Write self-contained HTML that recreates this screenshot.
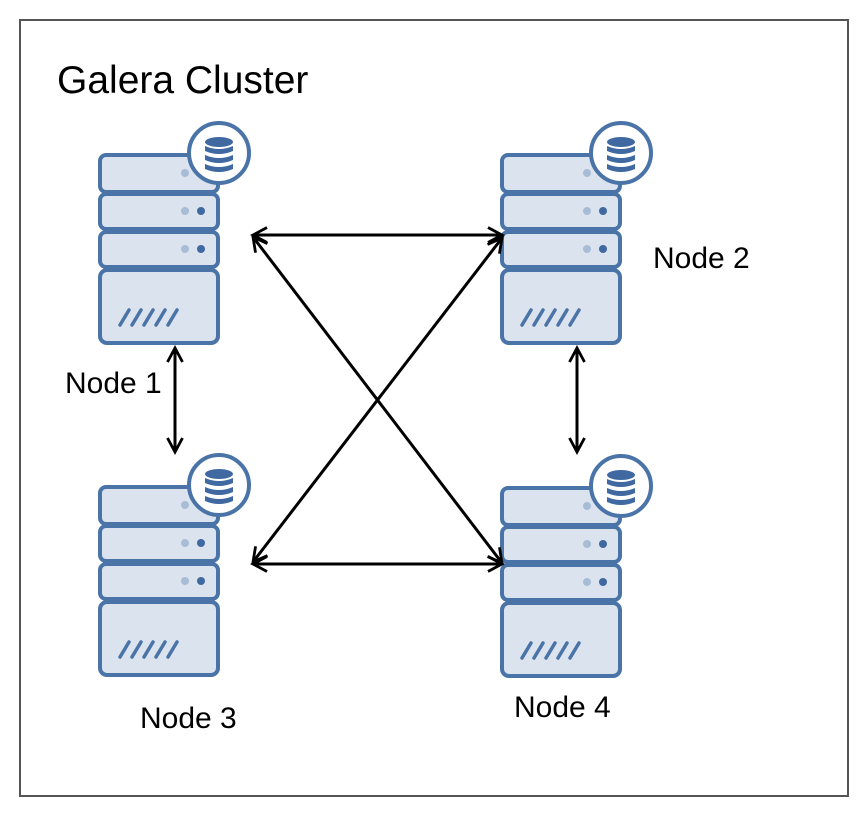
<!DOCTYPE html>
<html><head><style>body{margin:0;background:#fff}svg{display:block}</style></head><body>
<svg width="868" height="818" viewBox="0 0 868 818" xmlns="http://www.w3.org/2000/svg">
<defs>
<marker id="a" markerWidth="18" markerHeight="18" refX="15" refY="9" orient="auto-start-reverse" markerUnits="userSpaceOnUse">
<path d="M1,1.5 L15,9 L1,16.5" fill="none" stroke="#000" stroke-width="2.8"/>
</marker>
<g id="srv">
<rect x="0" y="0" width="118" height="37" rx="6" fill="#dbe3ee" stroke="#4a74a8" stroke-width="4"/>
<rect x="0" y="39" width="118" height="35" rx="6" fill="#dbe3ee" stroke="#4a74a8" stroke-width="4"/>
<rect x="0" y="77" width="118" height="35" rx="6" fill="#dbe3ee" stroke="#4a74a8" stroke-width="4"/>
<rect x="0" y="115" width="118" height="73" rx="7" fill="#dbe3ee" stroke="#4a74a8" stroke-width="4"/>
<circle cx="85" cy="18" r="4" fill="#a9bcd6"/>
<circle cx="85" cy="56" r="4" fill="#a9bcd6"/><circle cx="101" cy="56" r="4" fill="#3f69a0"/>
<circle cx="85" cy="94" r="4" fill="#a9bcd6"/><circle cx="101" cy="94" r="4" fill="#3f69a0"/>
<g stroke="#4a74a8" stroke-width="3.5" stroke-linecap="round">
<line x1="20" y1="170" x2="29" y2="155"/><line x1="32" y1="170" x2="41" y2="155"/><line x1="44" y1="170" x2="53" y2="155"/><line x1="56" y1="170" x2="65" y2="155"/><line x1="68" y1="170" x2="77" y2="155"/>
</g>
<circle cx="119" cy="-2" r="30" fill="#fff" stroke="#4a74a8" stroke-width="4"/>
<g fill="#3f69a0">
<ellipse cx="119" cy="-13" rx="14" ry="5"/>
<path d="M105,-9 q14,6 28,0 v5 q-14,6 -28,0z"/>
<path d="M105,0 q14,6 28,0 v5 q-14,6 -28,0z"/>
<path d="M105,9 q14,6 28,0 v5 q-14,6 -28,0z"/>
</g>
</g>
</defs>
<rect x="20" y="20" width="828" height="776" fill="#fff" stroke="#555" stroke-width="2"/>
<text x="57" y="93" font-family="Liberation Sans, sans-serif" font-size="39">Galera Cluster</text>
<use href="#srv" x="100" y="155"/>
<use href="#srv" x="502" y="155"/>
<use href="#srv" x="100" y="487"/>
<use href="#srv" x="502" y="488"/>
<g stroke="#000" stroke-width="3" fill="none">
<line x1="253" y1="235" x2="502" y2="235" marker-start="url(#a)" marker-end="url(#a)"/>
<line x1="253" y1="564" x2="502" y2="564" marker-start="url(#a)" marker-end="url(#a)"/>
<line x1="253" y1="237" x2="502" y2="563" marker-start="url(#a)" marker-end="url(#a)"/>
<line x1="502" y1="238" x2="253" y2="562" marker-start="url(#a)" marker-end="url(#a)"/>
<line x1="175" y1="348" x2="175" y2="452" marker-start="url(#a)" marker-end="url(#a)"/>
<line x1="577" y1="348" x2="577" y2="452" marker-start="url(#a)" marker-end="url(#a)"/>
</g>
<g font-family="Liberation Sans, sans-serif" font-size="30">
<text x="65" y="393">Node 1</text>
<text x="653" y="268">Node 2</text>
<text x="140" y="728">Node 3</text>
<text x="514" y="717">Node 4</text>
</g>
</svg>
</body></html>
